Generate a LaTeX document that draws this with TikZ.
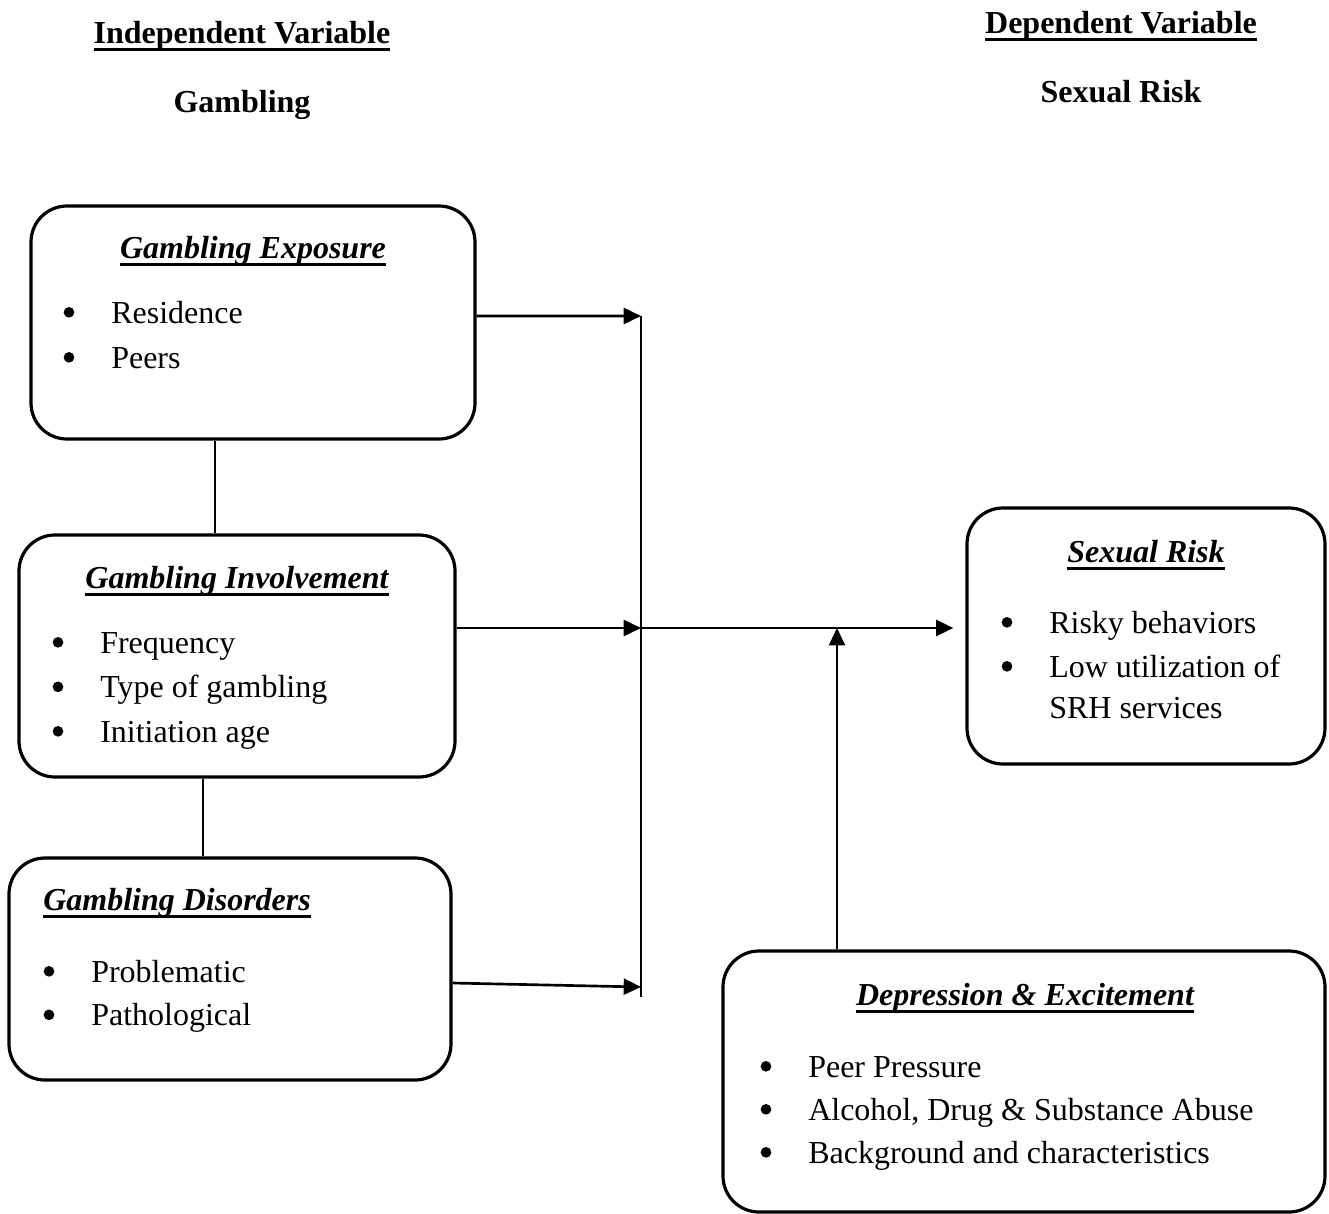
\documentclass[tikz,border=0pt]{standalone}
\usepackage{fontspec}
\setmainfont{Liberation Serif}
\usetikzlibrary{arrows.meta}
\newcommand\ulin[1]{\setbox0\hbox{#1}\rlap{\vrule width\wd0 height -3.8pt depth 6pt}\box0}

\begin{document}
\begin{tikzpicture}[x=0.75pt,y=-0.75pt,font=\fontsize{24}{33}\selectfont,
  box/.style={draw,line width=2.4pt,rounded corners=27pt},
  head/.style={font=\fontsize{24}{33}\selectfont\bfseries,anchor=base,inner sep=0pt},
  ttl/.style={font=\fontsize{24}{33}\selectfont\bfseries\itshape,anchor=base,inner sep=0pt},
  item/.style={anchor=base west,inner sep=0pt},
  dot/.style={xshift=-31.5pt,yshift=8pt},
  link/.style={line width=1.3pt},
  arr/.style={line width=2pt,-{Triangle[length=13pt,width=12pt]}}]
\useasboundingbox (0,0) rectangle (1329,1214);
\node[head] (indep) at (242,43) {\ulin{Independent Variable}};
\node[head] (gamb) at (242,112) {Gambling};
\node[head] (dep) at (1121,33) {\ulin{Dependent Variable}};
\node[head] (sexrisk) at (1121,102) {Sexual Risk};
\node[box,minimum width=333pt,minimum height=174.75pt] (expo) at (253,322.5) {};
\node[box,minimum width=327pt,minimum height=181.5pt] (invol) at (237,656) {};
\node[box,minimum width=331.5pt,minimum height=166.5pt] (disord) at (230,969) {};
\node[box,minimum width=268.5pt,minimum height=192pt] (risk) at (1146,636) {};
\node[box,minimum width=451.5pt,minimum height=195.75pt] (depr) at (1024,1081.5) {};
\node[ttl] (expottl) at (253,258) {\ulin{Gambling Exposure}};
\node[ttl] (involttl) at (237,588) {\ulin{Gambling Involvement}};
\node[ttl,anchor=base west] (disordttl) at (43,910) {\ulin{Gambling Disorders}};
\node[ttl] (riskttl) at (1146,562) {\ulin{Sexual Risk}};
\node[ttl] (deprttl) at (1025,1005) {\ulin{Depression \& Excitement}};
\foreach \t [count=\i] in {Residence,Peers}{
  \node[item] (expo\i) at (111,{323+45*(\i-1)}) {\t};
  \fill ([dot]expo\i.base west) circle (4pt);
}
\foreach \t [count=\i] in {Frequency,Type of gambling,Initiation age}{
  \node[item] (invol\i) at (100,{653+44.5*(\i-1)}) {\t};
  \fill ([dot]invol\i.base west) circle (4pt);
}
\foreach \t [count=\i] in {Problematic,Pathological}{
  \node[item] (disord\i) at (91,{982+43.5*(\i-1)}) {\t};
  \fill ([dot]disord\i.base west) circle (4pt);
}
\foreach \t [count=\i] in {Risky behaviors,Low utilization of}{
  \node[item] (risk\i) at (1049,{633+44*(\i-1)}) {\t};
  \fill ([dot]risk\i.base west) circle (4pt);
}
\node[item] (risk3) at (1049,718) {SRH services};
\foreach \t [count=\i] in {Peer Pressure,{Alcohol, Drug \& Substance Abuse},Background and characteristics}{
  \node[item] (depr\i) at (808,{1077+43*(\i-1)}) {\t};
  \fill ([dot]depr\i.base west) circle (4pt);
}
\coordinate (bartop) at (641,316);
\coordinate (junc) at (641,628);
\coordinate (disin) at (641,987);
\coordinate (barbot) at (641,997);
\draw[link] (bartop) -- (barbot);
\draw[link] ([xshift=-28.5pt]expo.south) -- ([xshift=-28.5pt]expo.south |- invol.north);
\draw[link] ([xshift=-25.5pt]invol.south) -- ([xshift=-25.5pt]invol.south |- disord.north);
\draw[arr] ([yshift=4.9pt]expo.east) -- (bartop);
\draw[arr] ([yshift=21pt]invol.east) -- (junc);
\draw[arr] ([yshift=-10.5pt]disord.east) -- (disin);
\draw[arr] (junc) -- ([xshift=-9pt,yshift=6pt]risk.west);
\draw[arr,line width=1.6pt] ([xshift=-140.25pt]depr.north) -- ([xshift=-140.25pt]depr.north |- junc);
\end{tikzpicture}
\end{document}
